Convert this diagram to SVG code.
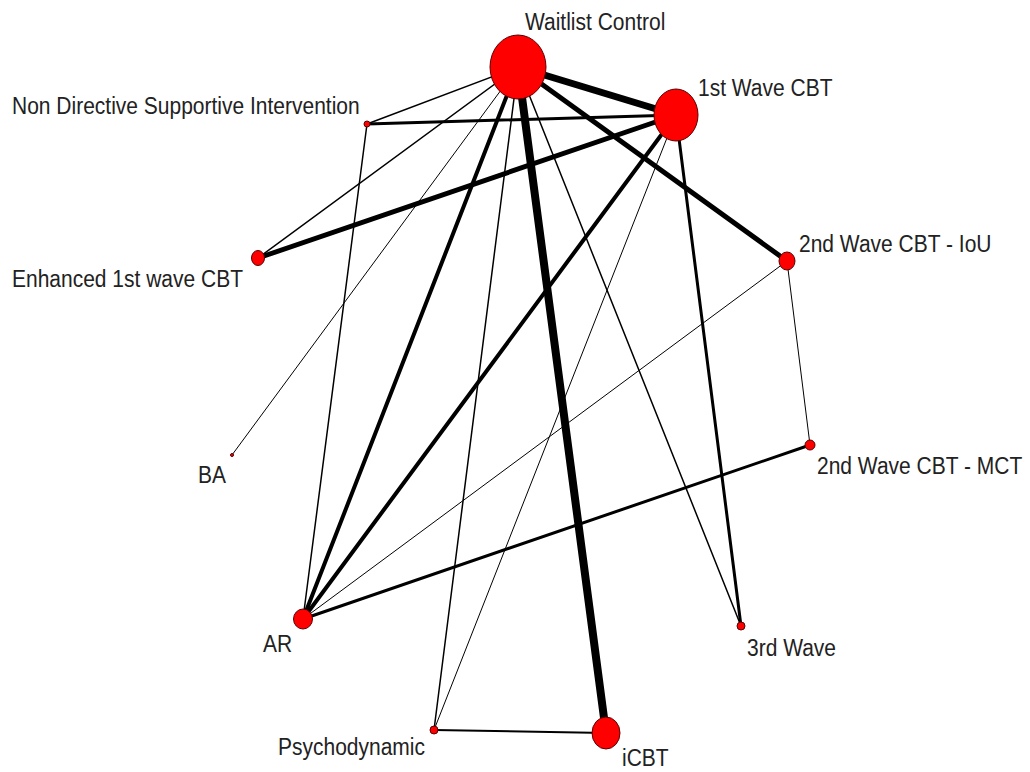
<svg xmlns="http://www.w3.org/2000/svg" width="1030" height="772" viewBox="0 0 1030 772">
<style>
.e{stroke:#000;stroke-linecap:round;fill:none}
.n{fill:#ff0000;stroke:#5a0000;stroke-width:1}
.t{font-family:"Liberation Sans",Arial,sans-serif;font-size:21px;fill:#222}
</style>
<rect width="1030" height="772" fill="#fff"/>
<g id="connectors">
<line class="e" x1="518" y1="67" x2="676" y2="115" stroke-width="7"/>
<line class="e" x1="518" y1="67" x2="367" y2="124" stroke-width="1.5"/>
<line class="e" x1="518" y1="67" x2="258" y2="258" stroke-width="1.5"/>
<line class="e" x1="518" y1="67" x2="232" y2="455" stroke-width="1"/>
<line class="e" x1="518" y1="67" x2="303" y2="619" stroke-width="4"/>
<line class="e" x1="518" y1="67" x2="434" y2="730" stroke-width="1.5"/>
<line class="e" x1="518" y1="67" x2="606" y2="733" stroke-width="8"/>
<line class="e" x1="518" y1="67" x2="741" y2="626" stroke-width="1.5"/>
<line class="e" x1="518" y1="67" x2="787" y2="261" stroke-width="5"/>
<line class="e" x1="367" y1="124" x2="676" y2="115" stroke-width="3"/>
<line class="e" x1="367" y1="124" x2="303" y2="619" stroke-width="1.5"/>
<line class="e" x1="258" y1="258" x2="676" y2="115" stroke-width="5"/>
<line class="e" x1="676" y1="115" x2="303" y2="619" stroke-width="4"/>
<line class="e" x1="676" y1="115" x2="434" y2="730" stroke-width="1"/>
<line class="e" x1="676" y1="115" x2="741" y2="626" stroke-width="3"/>
<line class="e" x1="787" y1="261" x2="810" y2="445" stroke-width="1"/>
<line class="e" x1="787" y1="261" x2="303" y2="619" stroke-width="1"/>
<line class="e" x1="810" y1="445" x2="303" y2="619" stroke-width="3"/>
<line class="e" x1="434" y1="730" x2="606" y2="733" stroke-width="2"/>
</g>
<g id="n-waitlist"><ellipse class="n" cx="518" cy="67" rx="28" ry="32"/><text class="t" transform="translate(525,30) scale(1,1.1)">Waitlist Control</text></g>
<g id="n-1stwave"><ellipse class="n" cx="676" cy="115" rx="22" ry="26"/><text class="t" transform="translate(698,96) scale(1,1.1)">1st Wave CBT</text></g>
<g id="n-ndsi"><circle class="n" cx="367" cy="124" r="3"/><text class="t" transform="translate(12,114) scale(1,1.1)">Non Directive Supportive Intervention</text></g>
<g id="n-enhanced"><ellipse class="n" cx="258" cy="258" rx="6.5" ry="7.5"/><text class="t" transform="translate(12,287) scale(1,1.1)">Enhanced 1st wave CBT</text></g>
<g id="n-iou"><ellipse class="n" cx="787" cy="261" rx="8" ry="9"/><text class="t" transform="translate(799,252) scale(1,1.1)">2nd Wave CBT - IoU</text></g>
<g id="n-ba"><circle class="n" cx="232" cy="455" r="1.5"/><text class="t" transform="translate(198,483) scale(1,1.1)">BA</text></g>
<g id="n-mct"><circle class="n" cx="810" cy="445" r="5"/><text class="t" transform="translate(817,474) scale(1,1.1)">2nd Wave CBT - MCT</text></g>
<g id="n-ar"><ellipse class="n" cx="303" cy="619" rx="9.5" ry="10"/><text class="t" transform="translate(263,652) scale(1,1.1)">AR</text></g>
<g id="n-3rd"><circle class="n" cx="741" cy="626" r="4"/><text class="t" transform="translate(747,656) scale(1,1.1)">3rd Wave</text></g>
<g id="n-psy"><circle class="n" cx="434" cy="730" r="4"/><text class="t" transform="translate(278,755) scale(1,1.1)">Psychodynamic</text></g>
<g id="n-icbt"><ellipse class="n" cx="606" cy="733" rx="14" ry="16"/><text class="t" transform="translate(622,766) scale(1,1.1)">iCBT</text></g>
</svg>
